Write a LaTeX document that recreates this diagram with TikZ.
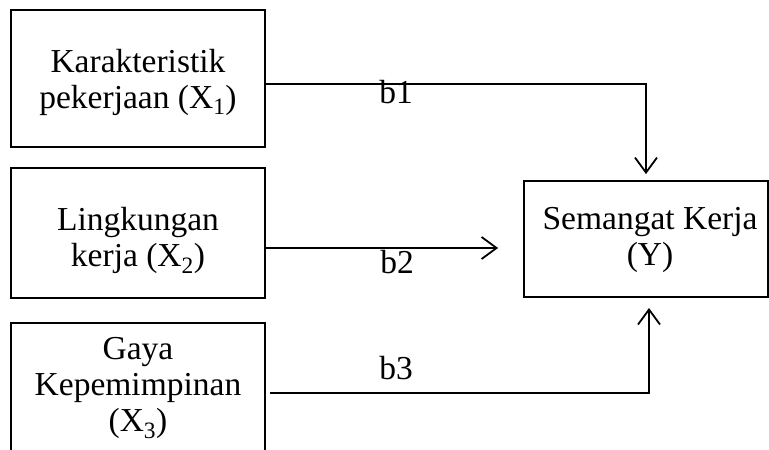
\documentclass[tikz,border=0pt]{standalone}
\usepackage{fontspec}
\setmainfont{Liberation Serif}
\usetikzlibrary{arrows.meta,calc}
\begin{document}
\begin{tikzpicture}[x=1pt,y=-1pt,
  every node/.style={font=\fontsize{33.5}{36}\selectfont, align=center, inner sep=0pt},
  boxline/.style={draw=black, line width=1.8pt},
  conn/.style={draw=black, line width=1.8pt},
  tip/.style={-{Straight Barb[length=15pt,width=22pt,line width=1.8pt]}}]
\useasboundingbox (0,0) rectangle (769,450);
% boxes
\node[boxline, minimum width=254pt, minimum height=137pt] (x1) at (138,78.5) {};
\node at (138,82) {Karakteristik\\pekerjaan (X\textsubscript{1})};
\node[boxline, minimum width=254pt, minimum height=130pt] (x2) at (138,233) {};
\node at (138,240) {Lingkungan\\kerja (X\textsubscript{2})};
\coordinate (x3bl) at (11,452);
\coordinate (x3tl) at (11,323);
\coordinate (x3tr) at (265,323);
\coordinate (x3br) at (265,452);
\draw[boxline] (x3bl) -- (x3tl) -- (x3tr) -- (x3br);
\node (x3) at (138,388) {Gaya\\Kepemimpinan\\(X\textsubscript{3})};
\node[boxline, minimum width=244pt, minimum height=116pt] (y) at (646,239) {};
\node at (650,240) {Semangat Kerja\\(Y)};
% connectors
\coordinate (b1s) at (265,84);
\coordinate (b1c) at (646,84);
\draw[conn, tip] (b1s) -- (b1c) -- ($(y.north)+(0,-6)$);
\coordinate (b2s) at (265,248);
\draw[conn, tip] (b2s) -- ($(y.west)+(-25,9)$);
\coordinate (b3s) at (270,393);
\coordinate (b3c) at (649,393);
\draw[conn, tip] (b3s) -- (b3c) -- (649,308);
% labels
\node (l1) at (396,92) {b1};
\node (l2) at (397,262) {b2};
\node (l3) at (396,368) {b3};
\end{tikzpicture}
\end{document}
